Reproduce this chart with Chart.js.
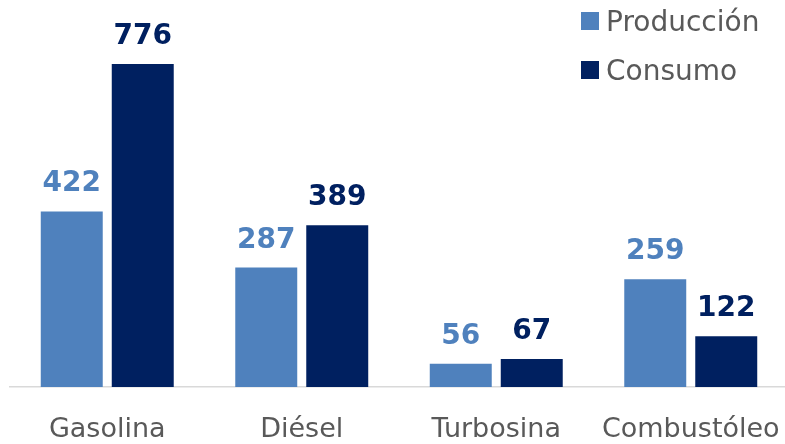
<!DOCTYPE html>
<html>
<head>
<meta charset="utf-8">
<script src="https://cdn.jsdelivr.net/npm/chart.js@4"></script>
<style>
  html, body { margin: 0; padding: 0; background: #fff; overflow: hidden; }
</style>
</head>
<body>
<canvas id="chart" width="790" height="444"></canvas>
<script>
const categories = ['Gasolina', 'Diésel', 'Turbosina', 'Combustóleo'];
const produccion = [422, 287, 56, 259];
const consumo = [776, 389, 67, 122];
const seriesNames = ['Producción', 'Consumo'];
const colors = ['#4F81BD', '#002060'];

const fontFamily = '"DejaVu Sans", Verdana, sans-serif';

// etiquetas de valor encima de cada barra
const valueLabels = {
    id: 'valueLabels',
    afterDatasetsDraw(chart) {
        const ctx = chart.ctx;
        ctx.save();
        ctx.font = 'bold 28px ' + fontFamily;
        ctx.textAlign = 'center';
        ctx.textBaseline = 'alphabetic';
        chart.data.datasets.forEach((ds, i) => {
            const meta = chart.getDatasetMeta(i);
            ctx.fillStyle = ds.backgroundColor;
            meta.data.forEach((bar, j) => {
                ctx.fillText(String(ds.data[j]), bar.x, bar.y - 20);
            });
        });
        ctx.restore();
    }
};

// leyenda vertical arriba a la derecha
const sideLegend = {
    id: 'sideLegend',
    afterDraw(chart) {
        const ctx = chart.ctx;
        ctx.save();
        ctx.font = '28px ' + fontFamily;
        ctx.textBaseline = 'alphabetic';
        ctx.textAlign = 'left';
        chart.data.datasets.forEach((ds, i) => {
            const y = 12 + i * 49;
            ctx.fillStyle = ds.backgroundColor;
            ctx.fillRect(581, y, 18, 18);
            ctx.fillStyle = '#595959';
            ctx.fillText(ds.label, 606, y + 19);
        });
        ctx.restore();
    }
};

new Chart(document.getElementById('chart').getContext('2d'), {
    type: 'bar',
    data: {
        labels: categories,
        datasets: [{
            label: seriesNames[0],
            data: produccion,
            backgroundColor: colors[0],
            categoryPercentage: 0.73,
            barPercentage: 0.873
        }, {
            label: seriesNames[1],
            data: consumo,
            backgroundColor: colors[1],
            categoryPercentage: 0.73,
            barPercentage: 0.873
        }]
    },
    options: {
        responsive: false,
        animation: false,
        layout: { padding: { left: 10, right: 2, top: 0, bottom: 0 } },
        plugins: {
            legend: { display: false },
            tooltip: { enabled: false }
        },
        scales: {
            x: {
                grid: { display: false, drawTicks: false },
                border: { display: true, color: '#D9D9D9', width: 1.5 },
                ticks: {
                    color: '#595959',
                    font: { family: fontFamily, size: 27 },
                    padding: 27,
                    maxRotation: 0,
                    autoSkip: false
                },
                afterFit(scale) {
                    scale.height = 57;
                    scale.paddingLeft = 0;
                    scale.paddingRight = 0;
                }
            },
            y: {
                display: false,
                min: 0,
                max: 930
            }
        }
    },
    plugins: [valueLabels, sideLegend]
});
</script>
</body>
</html>
